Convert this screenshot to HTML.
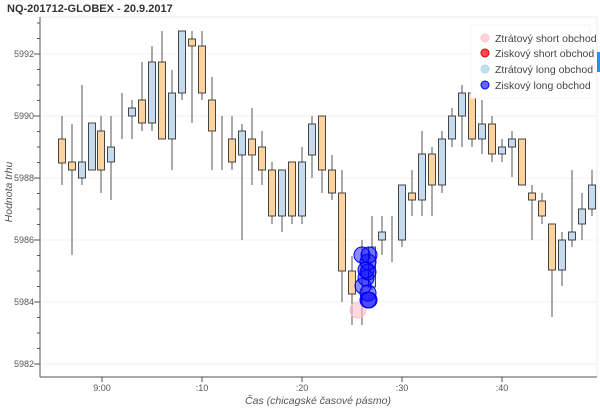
<!DOCTYPE html>
<html><head><meta charset="utf-8"><style>
body{margin:0;background:#fff;}
svg{display:block;font-family:"Liberation Sans",sans-serif;}
</style></head><body>
<svg width="600" height="409" viewBox="0 0 600 409">
<rect width="600" height="409" fill="#fff"/>
<text x="7" y="12" font-size="11" font-weight="bold" fill="#333">NQ-201712-GLOBEX - 20.9.2017</text>
<line x1="40" y1="17" x2="597" y2="17" stroke="#eee"/>
<line x1="597" y1="17" x2="597" y2="377" stroke="#eee"/>
<g stroke="#f2f2f2">
<line x1="41" x2="597" y1="54" y2="54"/><line x1="41" x2="597" y1="116" y2="116"/>
<line x1="41" x2="597" y1="178" y2="178"/><line x1="41" x2="597" y1="240" y2="240"/>
<line x1="41" x2="597" y1="302" y2="302"/><line x1="41" x2="597" y1="364" y2="364"/>
</g>
<g id="cs" stroke="#444" stroke-width="1">
</g>
<g id="c"></g>
<line x1="40" y1="17" x2="40" y2="377" stroke="#555"/>
<line x1="40" y1="377" x2="597" y2="377" stroke="#555"/>
<g id="ticks" stroke="#555"></g>
<g font-size="9" fill="#555" text-anchor="end">
<text x="34" y="57">5992</text><text x="34" y="119">5990</text><text x="34" y="181">5988</text>
<text x="34" y="243">5986</text><text x="34" y="305">5984</text><text x="34" y="367">5982</text>
</g>
<g font-size="9" fill="#555" text-anchor="middle">
<text x="102" y="391">9:00</text><text x="202" y="391">:10</text><text x="302" y="391">:20</text>
<text x="402" y="391">:30</text><text x="502" y="391">:40</text>
</g>
<text x="318" y="404" font-size="10.5" font-style="italic" fill="#555" text-anchor="middle">Čas (chicagské časové pásmo)</text>
<text transform="translate(12,192) rotate(-90)" font-size="10.5" font-style="italic" fill="#555" text-anchor="middle">Hodnota trhu</text>
<rect x="597" y="52" width="3" height="20" fill="#1e90ff"/>
<rect x="471" y="25" width="119" height="73" fill="#fff" fill-opacity="0.95" stroke="#f4f4f4"/>
<circle cx="485" cy="38" r="4" fill="#ffc0cb" fill-opacity="0.7" stroke="#ffc0cb"/>
<circle cx="485" cy="53" r="4" fill="#ff0000" fill-opacity="0.7" stroke="#d00"/>
<circle cx="485" cy="69" r="4" fill="#add8e6" fill-opacity="0.8" stroke="#add8e6"/>
<circle cx="485" cy="85" r="4" fill="#0000ff" fill-opacity="0.6" stroke="#00f"/>
<g font-size="10.5" fill="#444">
<text x="495" y="42">Ztrátový short obchod</text><text x="495" y="57">Ziskový short obchod</text>
<text x="495" y="73">Ztrátový long obchod</text><text x="495" y="89">Ziskový long obchod</text>
</g>
</svg>
<script>
var d=[
[62,'o',116,185,139,163],[72,'o',124,255,162,170],[82,'b',85,185,162,178],[92,'b',123,170,123,170],
[101,'o',116,193,131,170],[111,'b',116,200,147,162],[122,'n',93,139],[132,'b',100,139,108,116],
[142,'o',62,131,100,123],[152,'b',46,131,62,123],[162,'o',31,139,62,139],[172,'b',70,170,93,139],
[182,'b',31,100,31,93],[192,'o',31,123,39,46],[202,'o',31,100,46,93],[212,'o',77,170,100,131],
[222,'n',116,170],[232,'o',116,170,139,162],[242,'b',124,240,131,155],[252,'o',108,185,139,155],
[262,'o',131,185,147,170],[272,'o',162,224,170,216],[282,'b',170,232,170,216],[292,'o',162,224,162,216],
[302,'b',147,224,162,216],[312,'b',116,178,124,155],[322,'o',116,193,116,170],[332,'o',155,200,170,193],
[342,'o',170,302,193,271],[352,'o',256,325,271,294],[362,'n',240,325],[372,'b',216,290,247,287],
[382,'b',216,255,232,240],[392,'n',216,262],[402,'b',185,247,185,240],[412,'o',170,216,193,200],
[422,'b',131,216,154,200],[432,'o',147,216,154,185],[442,'b',131,193,139,185],[452,'b',108,147,116,139],
[462,'b',85,147,93,116],[472,'o',85,147,93,139],[482,'b',100,154,124,139],[492,'o',116,162,124,154],
[502,'b',139,162,147,154],[512,'b',131,177,139,147],[522,'o',139,185,139,185],[532,'o',185,240,193,200],
[542,'o',193,224,201,216],[552,'o',224,317,224,270],[562,'b',232,286,240,270],[572,'b',170,247,232,240],
[582,'b',193,240,209,224],[592,'b',170,216,185,209]];
var ns='http://www.w3.org/2000/svg',g=document.getElementById('cs');
function el(t,a,p){var e=document.createElementNS(ns,t);for(var k in a)e.setAttribute(k,a[k]);(p||g).appendChild(e);return e;}
d.forEach(function(c){el('line',{x1:c[0],x2:c[0],y1:c[2],y2:c[3],stroke:'#555'});
if(c[1]!='n'){el('rect',{x:c[0]-3.5,y:c[4],width:7,height:Math.max(c[5]-c[4],1),fill:c[1]=='o'?'#fdd49e':'#c6dbef',stroke:'#444'});}});
var cg=document.getElementById('c');
el('circle',{cx:358,cy:310,r:8,fill:'#ffc0cb','fill-opacity':0.6,stroke:'#ffc0cb'},cg);
[[362,255],[369,255],[368,262],[366,270],[368,272],[366,278],[363,286],[368,293],[368,300],[369,300]].forEach(function(p){
el('circle',{cx:p[0],cy:p[1],r:8,fill:'#0000ff','fill-opacity':0.45,stroke:'#00f'},cg);});
var tk=document.getElementById('ticks');
for(var v=5981.5;v<=5993.5;v+=0.5){var y=364-(v-5982)*31;if(y<17||y>377)continue;var maj=(v%2==0);
el('line',{x1:maj?34:37,x2:40,y1:y,y2:y},tk);}
[102,202,302,402,502].forEach(function(x){el('line',{x1:x,x2:x,y1:377,y2:382},tk);});
</script>
</body></html>
